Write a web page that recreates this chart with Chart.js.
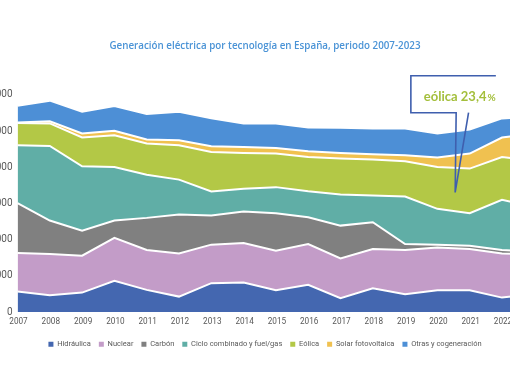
<!DOCTYPE html>
<html><head><meta charset="utf-8">
<script src="https://cdn.jsdelivr.net/npm/chart.js@4.4.0/dist/chart.umd.min.js"></script>
<style>
html,body{margin:0;padding:0;background:#fff;width:510px;height:382px;overflow:hidden;position:relative}
#wrap{position:absolute;left:-80px;top:0;width:690px;height:382px}
canvas{display:block}
</style></head><body>
<div id="wrap"><canvas id="c" width="690" height="382"></canvas></div>
<script>
const years = ['2007','2008','2009','2010','2011','2012','2013','2014','2015','2016','2017','2018','2019','2020','2021','2022','2023'];
const hidraulica = [28200,23200,26800,43100,30600,21300,39900,40700,30100,37500,19000,32900,24600,30100,30100,19900,25000];
const nuclear    = [53300,56900,51000,59300,55100,59700,53200,54700,54600,56500,55000,54200,61100,59200,56900,61100,54900];
const carbon     = [68900,46300,34700,24000,44400,53800,40300,43500,51800,36900,45400,36900,8300,3700,4600,4700,3500];
const ciclo      = [80100,103200,88900,74000,59700,48200,33300,31500,36100,36100,43100,37100,65700,49600,44900,69400,61800];
const eolica     = [30800,31100,39900,44000,43100,47600,54600,49400,46400,47200,49600,49600,48600,57800,61700,59200,63900];
const solar      = [500,2800,5600,6000,5600,6900,7900,8300,7800,7900,7800,7400,8300,13100,20800,26900,37500];
const otras      = [23300,28600,30000,34300,35100,39300,38500,32500,33900,32900,34700,35700,37100,33300,33300,26400,23600];
const seriesNames = ['Hidráulica','Nuclear','Carbón','Ciclo combinado y fuel/gas','Eólica','Solar fotovoltaica','Otras y cogeneración'];
const seriesColors = ['#4467b0','#c39cc8','#808080','#60aea6','#b3c846','#f0c150','#4d8fd6'];
const yTicks = [0,50000,100000,150000,200000,250000,300000];
const titleText = 'Generación eléctrica por tecnología en España, periodo 2007-2023';
const calloutText = 'eólica 23,4';

const allSeries = [hidraulica,nuclear,carbon,ciclo,eolica,solar,otras];
const narrow = "Roboto, 'Liberation Sans', sans-serif";

const callout = {
  id: 'callout',
  afterDatasetsDraw(chart) {
    const {ctx, scales: {x, y}} = chart;
    const tx = x.getPixelForValue(13.55), ty = y.getPixelForValue(165300);
    const L = tx - 44.3, T = ty - 116.7, R = tx + 40.7, B = ty - 79.7;
    ctx.save();
    ctx.strokeStyle = '#3f5fae';
    ctx.lineWidth = 1.6;
    ctx.beginPath();
    ctx.moveTo(R, T); ctx.lineTo(L, T); ctx.lineTo(L, B); ctx.lineTo(tx + 1, B);
    ctx.lineTo(tx, ty); ctx.lineTo(tx + 13.4, B);
    ctx.stroke();
    ctx.fillStyle = '#a4bf3c';
    ctx.textBaseline = 'alphabetic';
    ctx.font = "bold 13px Lato, sans-serif";
    ctx.fillText(calloutText, L + 13, T + 25);
    const w = ctx.measureText(calloutText).width;
    ctx.font = "bold 10px Lato, sans-serif";
    ctx.fillText('%', L + 13 + w + 1, T + 25);
    ctx.restore();
  }
};

new Chart(document.getElementById('c'), {
  type: 'line',
  data: {
    labels: years,
    datasets: allSeries.map((d, i) => ({
      label: seriesNames[i],
      data: d,
      backgroundColor: seriesColors[i],
      borderColor: '#ffffff',
      borderWidth: 2,
      pointRadius: 0,
      tension: 0,
      fill: i === 0 ? 'origin' : '-1'
    }))
  },
  options: {
    responsive: false,
    animation: false,
    events: [],
    layout: { padding: { left: 0, right: 0, top: 0, bottom: 24 } },
    plugins: {
      filler: { drawTime: 'beforeDatasetsDraw' },
      tooltip: { enabled: false },
      title: {
        display: true,
        text: titleText,
        color: '#4a93d6',
        font: { family: "'Open Sans', sans-serif", size: 9.8, weight: '600', lineHeight: 1.2 },
        padding: { top: 40, bottom: 43.2 }
      },
      legend: {
        position: 'bottom',
        labels: {
          boxWidth: 5, boxHeight: 5, padding: 8,
          color: '#595959',
          font: { family: narrow, size: 7.5 },
          generateLabels: (chart) => Chart.defaults.plugins.legend.labels.generateLabels(chart)
            .map(l => Object.assign(l, { lineWidth: 0, strokeStyle: 'rgba(0,0,0,0)' }))
        }
      }
    },
    scales: {
      x: {
        type: 'category',
        offset: false,
        grid: { display: false, drawTicks: false },
        border: { display: false },
        ticks: { color: '#595959', font: { family: narrow, size: 8.2 }, padding: 5, labelOffset: 1, maxRotation: 0, autoSkip: false },
        afterFit: (s) => { s.height = 20.5; }
      },
      y: {
        stacked: true,
        min: 0, max: 300000,
        grid: { display: false, drawTicks: false },
        border: { display: false },
        afterBuildTicks: (s) => { s.ticks = yTicks.map(v => ({ value: v })); },
        ticks: { color: '#595959', font: { family: narrow, size: 10 }, padding: 5, callback: (v) => String(v) },
        afterFit: (s) => { s.width = 97.5; }
      },
      yR: {
        position: 'right',
        display: true,
        grid: { display: false, drawTicks: false },
        border: { display: false },
        ticks: { display: false },
        afterFit: (s) => { s.width = 75.7; }
      }
    }
  },
  plugins: [callout]
});
</script>
</body></html>
